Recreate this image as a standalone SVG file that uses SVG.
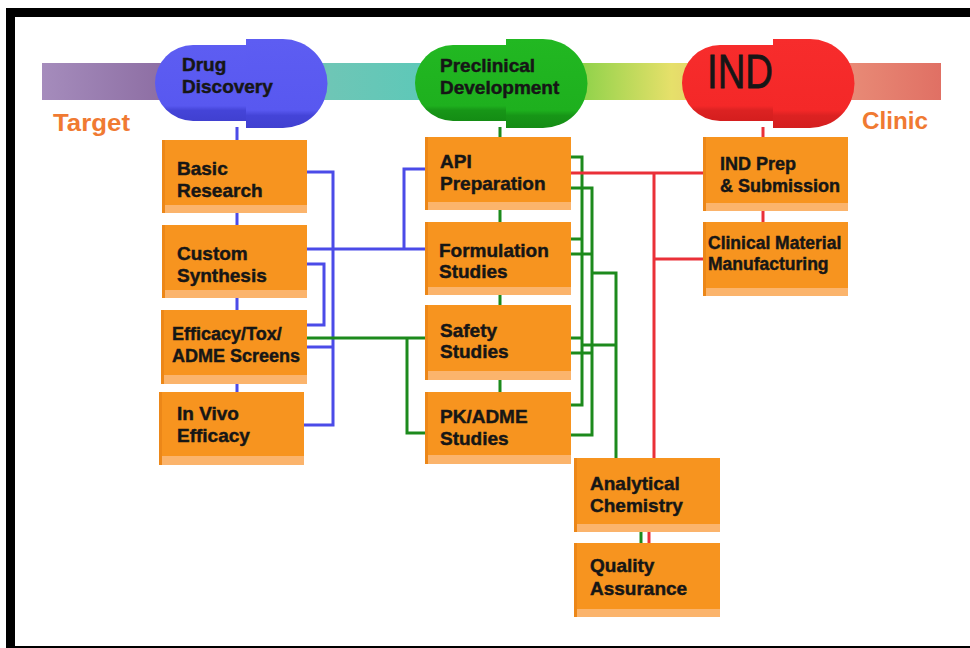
<svg xmlns="http://www.w3.org/2000/svg" width="970" height="648" viewBox="0 0 970 648">
<style>
.t{font-family:"Liberation Sans",Arial,sans-serif;font-weight:bold;fill:#161616;stroke:#161616;stroke-width:0.45}
.lbl{font-family:"Liberation Sans",Arial,sans-serif;font-weight:bold;fill:#f07a32;font-size:23px}
.face{fill:#f7941f}
.strip{fill:#fbb46c}
.edge{fill:#ec8718}
.bl{stroke:#4b4be8;stroke-width:3;fill:none}
.gr{stroke:#1c8a1c;stroke-width:3;fill:none}
.rd{stroke:#ea3038;stroke-width:3;fill:none}
</style>
<defs>
<linearGradient id="band" x1="42" y1="0" x2="941" y2="0" gradientUnits="userSpaceOnUse">
<stop offset="0" stop-color="#a58cbc"/>
<stop offset="0.13" stop-color="#8e6fa4"/>
<stop offset="0.32" stop-color="#6ec6b6"/>
<stop offset="0.42" stop-color="#5ec8b8"/>
<stop offset="0.6" stop-color="#8fd24a"/>
<stop offset="0.7" stop-color="#e6e06a"/>
<stop offset="0.9" stop-color="#e88a76"/>
<stop offset="1" stop-color="#e07064"/>
</linearGradient>
<linearGradient id="gB" x1="0" y1="0" x2="0" y2="1"><stop offset="0" stop-color="#5d5df2"/><stop offset="0.8" stop-color="#5858f0"/><stop offset="0.86" stop-color="#4444d8"/><stop offset="1" stop-color="#4040d0"/></linearGradient>
<linearGradient id="gG" x1="0" y1="0" x2="0" y2="1"><stop offset="0" stop-color="#22b822"/><stop offset="0.8" stop-color="#1eb01e"/><stop offset="0.86" stop-color="#179617"/><stop offset="1" stop-color="#148c14"/></linearGradient>
<linearGradient id="gR" x1="0" y1="0" x2="0" y2="1"><stop offset="0" stop-color="#f72c2c"/><stop offset="0.8" stop-color="#f42828"/><stop offset="0.86" stop-color="#dc2222"/><stop offset="1" stop-color="#d41e1e"/></linearGradient>
<path id="pl" d="M95,6 H38 A38 38 0 0 0 38,82 H95 Z"/>
<path id="pr" d="M91,0 H128 A44.5 44.5 0 0 1 128,89 H91 Z"/>
</defs>

<rect x="0" y="0" width="970" height="648" fill="#ffffff"/>
<!-- frame -->
<rect x="6" y="8" width="964" height="9" fill="#000"/>
<rect x="6" y="8" width="9" height="640" fill="#000"/>
<rect x="6" y="646" width="964" height="2" fill="#000"/>

<!-- band -->
<rect x="42" y="63" width="899" height="37" fill="url(#band)"/>
<text class="lbl" x="53" y="131" textLength="77" lengthAdjust="spacingAndGlyphs">Target</text>
<text class="lbl" x="862" y="129" textLength="66" lengthAdjust="spacingAndGlyphs">Clinic</text>

<!-- connectors -->
<g id="connectors">
<path class="bl" d="M237,127 V392"/>
<path class="bl" d="M306,172 H333 V425 H303"/>
<path class="bl" d="M306,249 H425"/>
<path class="bl" d="M404,249 V169 H425"/>
<path class="bl" d="M306,264 H324 V325 H306"/>
<path class="bl" d="M306,347 H333"/>
<path class="gr" d="M500,127 V392"/>
<path class="gr" d="M306,338 H425"/>
<path class="gr" d="M407,338 V433 H425"/>
<path class="gr" d="M571,157 H582 V405 H571"/>
<path class="gr" d="M571,188 H592 V435 H571"/>
<path class="gr" d="M571,239 H582"/>
<path class="gr" d="M571,254 H592"/>
<path class="gr" d="M592,273 H616 V458"/>
<path class="gr" d="M571,338 H582"/>
<path class="gr" d="M571,353 H592"/>
<path class="gr" d="M582,345 H616"/>
<path class="gr" d="M641,532 V543"/>
<path class="rd" d="M571,173 H703"/>
<path class="rd" d="M654,173 V458"/>
<path class="rd" d="M654,259 H703"/>
<path class="rd" d="M763,127 V222"/>
<path class="rd" d="M649,532 V543"/>
</g>

<!-- pills -->
<g id="drug-discovery" transform="translate(155,39)">
<use href="#pl" fill="url(#gB)"/><use href="#pr" fill="url(#gB)"/>
<text class="t" x="27" y="32" font-size="19">Drug</text>
<text class="t" x="27" y="54" font-size="19">Discovery</text>
</g>
<g id="preclinical" transform="translate(415,39)">
<use href="#pl" fill="url(#gG)"/><use href="#pr" fill="url(#gG)"/>
<text class="t" x="25" y="33" font-size="19">Preclinical</text>
<text class="t" x="25" y="55" font-size="19">Development</text>
</g>
<g id="ind" transform="translate(682,39)">
<use href="#pl" fill="url(#gR)"/><use href="#pr" fill="url(#gR)"/>
<text x="25" y="49" font-family="'Liberation Sans',Arial,sans-serif" font-size="48" fill="#161616" stroke="#161616" stroke-width="0.8" textLength="66" lengthAdjust="spacingAndGlyphs">IND</text>
</g>

<!-- boxes -->
<g id="basic-research">
<rect class="face" x="162" y="140" width="145" height="65"/><rect class="strip" x="162" y="205" width="145" height="8"/><rect class="edge" x="162" y="140" width="3" height="73"/>
<text class="t" font-size="19" x="177" y="175">Basic</text><text class="t" font-size="19" x="177" y="197">Research</text>
</g>
<g id="custom-synthesis">
<rect class="face" x="162" y="225" width="145" height="65"/><rect class="strip" x="162" y="290" width="145" height="8"/><rect class="edge" x="162" y="225" width="3" height="73"/>
<text class="t" font-size="19" x="177" y="260">Custom</text><text class="t" font-size="19" x="177" y="282">Synthesis</text>
</g>
<g id="efficacy-screens">
<rect class="face" x="161" y="310" width="146" height="65"/><rect class="strip" x="161" y="375" width="146" height="9"/><rect class="edge" x="161" y="310" width="3" height="74"/>
<text class="t" font-size="18" x="172" y="340">Efficacy/Tox/</text><text class="t" font-size="18" x="172" y="362">ADME Screens</text>
</g>
<g id="in-vivo">
<rect class="face" x="159" y="392" width="145" height="64"/><rect class="strip" x="159" y="456" width="145" height="9"/><rect class="edge" x="159" y="392" width="3" height="73"/>
<text class="t" font-size="19" x="177" y="420">In Vivo</text><text class="t" font-size="19" x="177" y="442">Efficacy</text>
</g>
<g id="api-preparation">
<rect class="face" x="425" y="137" width="146" height="65"/><rect class="strip" x="425" y="202" width="146" height="8"/><rect class="edge" x="425" y="137" width="3" height="73"/>
<text class="t" font-size="19" x="440" y="168">API</text><text class="t" font-size="19" x="440" y="190">Preparation</text>
</g>
<g id="formulation-studies">
<rect class="face" x="425" y="222" width="146" height="65"/><rect class="strip" x="425" y="287" width="146" height="8"/><rect class="edge" x="425" y="222" width="3" height="73"/>
<text class="t" font-size="19" x="439" y="257">Formulation</text><text class="t" font-size="19" x="439" y="278">Studies</text>
</g>
<g id="safety-studies">
<rect class="face" x="425" y="305" width="146" height="66"/><rect class="strip" x="425" y="371" width="146" height="9"/><rect class="edge" x="425" y="305" width="3" height="75"/>
<text class="t" font-size="19" x="440" y="337">Safety</text><text class="t" font-size="19" x="440" y="358">Studies</text>
</g>
<g id="pk-adme-studies">
<rect class="face" x="425" y="392" width="146" height="63"/><rect class="strip" x="425" y="455" width="146" height="9"/><rect class="edge" x="425" y="392" width="3" height="72"/>
<text class="t" font-size="19" x="440" y="423">PK/ADME</text><text class="t" font-size="19" x="440" y="445">Studies</text>
</g>
<g id="ind-prep">
<rect class="face" x="703" y="137" width="145" height="66"/><rect class="strip" x="703" y="203" width="145" height="8"/><rect class="edge" x="703" y="137" width="3" height="74"/>
<text class="t" font-size="18" x="720" y="170">IND Prep</text><text class="t" font-size="18" x="720" y="192">&amp; Submission</text>
</g>
<g id="clinical-material">
<rect class="face" x="703" y="222" width="145" height="66"/><rect class="strip" x="703" y="288" width="145" height="8"/><rect class="edge" x="703" y="222" width="3" height="74"/>
<text class="t" font-size="17.5" x="708" y="249">Clinical Material</text><text class="t" font-size="17.5" x="708" y="270">Manufacturing</text>
</g>
<g id="analytical-chemistry">
<rect class="face" x="574" y="458" width="146" height="66"/><rect class="strip" x="574" y="524" width="146" height="8"/><rect class="edge" x="574" y="458" width="3" height="74"/>
<text class="t" font-size="19" x="590" y="490">Analytical</text><text class="t" font-size="19" x="590" y="512">Chemistry</text>
</g>
<g id="quality-assurance">
<rect class="face" x="574" y="543" width="146" height="66"/><rect class="strip" x="574" y="609" width="146" height="8"/><rect class="edge" x="574" y="543" width="3" height="74"/>
<text class="t" font-size="19" x="590" y="572">Quality</text><text class="t" font-size="19" x="590" y="595">Assurance</text>
</g>
</svg>
